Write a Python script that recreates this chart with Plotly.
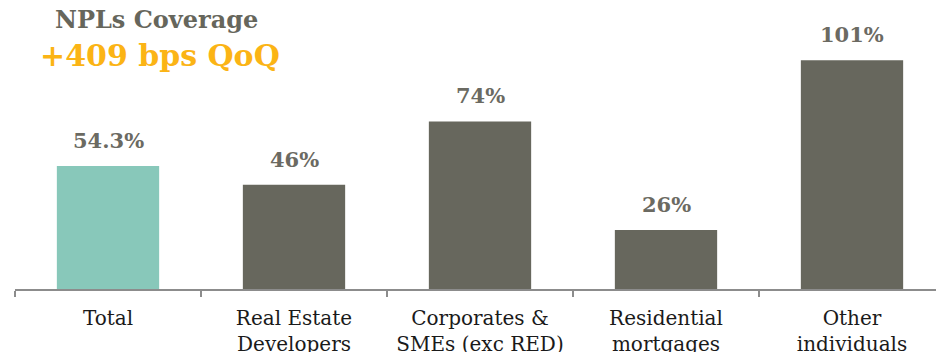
import plotly.graph_objects as go

# NPL coverage by segment
categories = ["Total", "Real Estate<br>Developers", "Corporates &<br>SMEs (exc RED)",
              "Residential<br>mortgages", "Other<br>individuals"]
coverage = [54.3, 46, 74, 26, 101]
value_labels = ["54.3%", "46%", "74%", "26%", "101%"]
bar_colors = ["#88C8BA", "#67675D", "#67675D", "#67675D", "#67675D"]

FONT = "DejaVu Serif"
GREY = "#6B6A62"

fig = go.Figure(
    go.Bar(
        x=categories,
        y=coverage,
        marker=dict(color=bar_colors, line=dict(width=0)),
        width=0.55,
        hoverinfo="skip",
    )
)

# value labels above each bar
for cat, val, lab in zip(categories, coverage, value_labels):
    fig.add_annotation(
        x=cat, y=val, text=f"<b>{lab}</b>", showarrow=False,
        yanchor="bottom", yshift=11,
        font=dict(family=FONT, size=21, color=GREY),
    )

# headline
fig.add_annotation(
    x=(156 - 15) / 921, y=(289 - 19) / 289, xref="paper", yref="paper",
    text="<b>NPLs Coverage</b>", showarrow=False, xanchor="center", yanchor="middle",
    font=dict(family=FONT, size=24, color="#66665C"),
)
fig.add_annotation(
    x=(160 - 15) / 921, y=(289 - 55) / 289, xref="paper", yref="paper",
    text="<b>+409 bps QoQ</b>", showarrow=False, xanchor="center", yanchor="middle",
    font=dict(family=FONT, size=30, color="#FBB415"),
)

fig.update_layout(
    width=936, height=352,
    margin=dict(l=15, r=0, t=0, b=63, autoexpand=False),
    paper_bgcolor="white", plot_bgcolor="white",
    showlegend=False,
    xaxis=dict(
        type="category",
        automargin=False,
        range=[-0.5, 4.5 - 9 / 186],
        tickson="boundaries",
        ticks="outside", ticklen=6, tickcolor="#8C8C8C", tickwidth=1.5,
        showline=True, linecolor="#8C8C8C", linewidth=1.5,
        showgrid=False,
        ticklabelstandoff=10,
        tickfont=dict(family=FONT, size=20, color="#1A1A1A"),
    ),
    yaxis=dict(range=[0, 289 / 2.265], visible=False, showgrid=False, zeroline=False,
               automargin=False),
)

fig.write_html("out.html")
